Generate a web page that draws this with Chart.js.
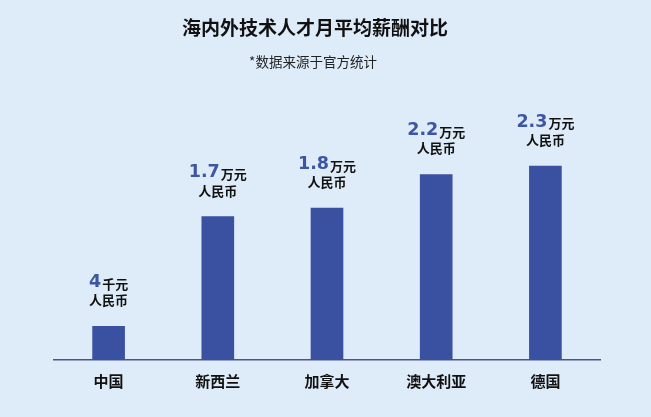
<!DOCTYPE html>
<html lang="zh">
<head>
  <meta charset="UTF-8">
  <title>海内外技术人才月平均薪酬对比</title>
  <style>
    html, body {
      margin: 0;
      padding: 0;
      background: #deebf8;
    }
    .chart-box {
      width: 651px;
      height: 417px;
    }
  </style>
  <script src="https://cdn.jsdelivr.net/npm/chart.js"></script>
</head>
<body>
  <div class="chart-box">
    <canvas id="salaryChart"></canvas>
  </div>

  <script>
    // data (万元人民币 / 月)
    const countries = ['中国', '新西兰', '加拿大', '澳大利亚', '德国'];
    const salaries = [0.4, 1.7, 1.8, 2.2, 2.3];
    const valueLabels = ['4', '1.7', '1.8', '2.2', '2.3'];
    const unitLabels = ['千元', '万元', '万元', '万元', '万元'];
    const currencyLabel = '人民币';
    const chartTitle = '海内外技术人才月平均薪酬对比';
    const chartSubtitle = '*数据来源于官方统计';

    const cjk = '"Noto Sans CJK SC", "Noto Sans", sans-serif';
    const numFont = 'bold 17.5px "DejaVu Sans", sans-serif';
    const barBlue = '#3a51a2';

    // title + subtitle (sit a little left of the plot centre in the original)
    const headings = {
      id: 'headings',
      afterDraw(chart) {
        const ctx = chart.ctx;
        ctx.save();
        ctx.textAlign = 'center';
        ctx.textBaseline = 'middle';
        ctx.fillStyle = '#111';
        ctx.font = 'bold 19px ' + cjk;
        ctx.fillText(chartTitle, 315, 28);
        ctx.fillStyle = '#222';
        ctx.font = '13.5px ' + cjk;
        ctx.fillText(chartSubtitle, 313, 62);
        ctx.restore();
      }
    };

    // value labels above each bar
    const barLabels = {
      id: 'barLabels',
      afterDatasetsDraw(chart) {
        const ctx = chart.ctx;
        const meta = chart.getDatasetMeta(0);
        ctx.save();
        ctx.textBaseline = 'middle';
        meta.data.forEach((bar, i) => {
          const num = valueLabels[i];
          const unit = unitLabels[i];
          ctx.font = numFont;
          const wNum = ctx.measureText(num).width;
          ctx.font = 'bold 13px ' + cjk;
          const wUnit = ctx.measureText(unit).width;
          const start = bar.x - (wNum + 1 + wUnit) / 2;
          const yNum = bar.y - 44;

          ctx.textAlign = 'left';
          ctx.fillStyle = '#3d55a5';
          ctx.font = numFont;
          ctx.fillText(num, start, yNum);
          ctx.fillStyle = '#111';
          ctx.font = 'bold 13px ' + cjk;
          ctx.fillText(unit, start + wNum + 1, yNum + 1.5);

          ctx.textAlign = 'center';
          ctx.fillText(currencyLabel, bar.x, bar.y - 26);
        });
        ctx.restore();
      }
    };

    new Chart(document.getElementById('salaryChart'), {
      type: 'bar',
      data: {
        labels: countries,
        datasets: [{
          data: salaries,
          backgroundColor: barBlue,
          borderWidth: 0,
          barThickness: 32
        }]
      },
      options: {
        responsive: true,
        maintainAspectRatio: false,
        animation: false,
        layout: {
          padding: { left: 54, right: 51, top: 107, bottom: 15 }
        },
        plugins: {
          legend: { display: false },
          tooltip: { enabled: false },
          title: { display: false }
        },
        scales: {
          x: {
            grid: { display: false, drawTicks: false },
            border: { display: true, color: '#4a5685', width: 1.5 },
            ticks: {
              color: '#111',
              padding: 12,
              font: { family: cjk, size: 15, weight: 'bold' }
            }
          },
          y: {
            display: false,
            min: 0,
            max: 3
          }
        }
      },
      plugins: [barLabels, headings]
    });
  </script>
</body>
</html>
